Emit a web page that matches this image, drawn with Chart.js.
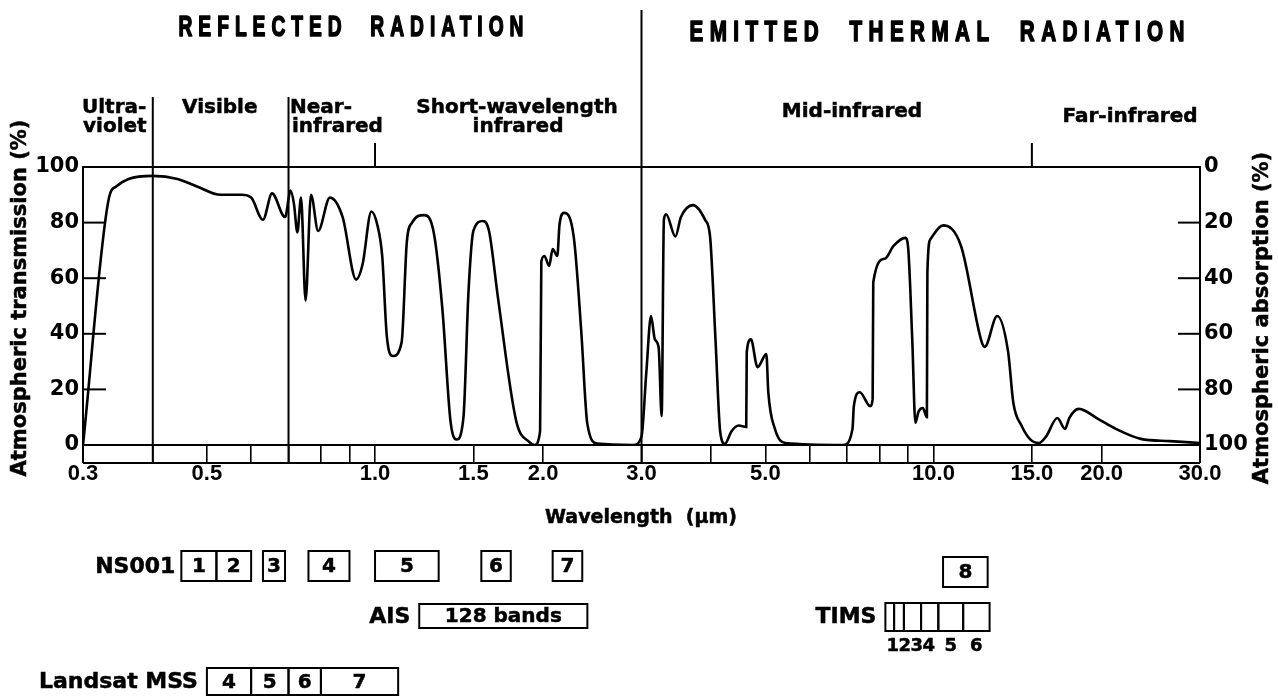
<!DOCTYPE html>
<html>
<head>
<meta charset="utf-8">
<title>Atmospheric transmission</title>
<script src="https://cdn.jsdelivr.net/npm/chart.js@4.4.1/dist/chart.umd.min.js"></script>
<style>
  html, body { margin: 0; padding: 0; background: #fff; }
  #wrap { position: relative; width: 1278px; height: 696px; }
</style>
</head>
<body>
<div id="wrap"><canvas id="chart"></canvas></div>
<script>
// ===================== Data =====================
// wavelength in micrometres, atmospheric transmission in %
const wavelength = [
  0.30, 0.334, 0.344, 0.362, 0.40, 0.443, 0.48, 0.529, 0.577, 0.60,
  0.63, 0.654, 0.69, 0.706, 0.716, 0.726, 0.737, 0.751, 0.768, 0.791,
  0.83, 0.875, 0.925, 0.95, 0.985, 1.01, 1.03, 1.05, 1.076, 1.116,
  1.14, 1.165, 1.225, 1.275, 1.32, 1.365, 1.40, 1.44, 1.47, 1.50,
  1.56, 1.60, 1.66, 1.79, 1.89, 1.93, 1.975, 1.985, 2.01, 2.05,
  2.08, 2.12, 2.14, 2.18, 2.27, 2.34, 2.40, 2.50, 2.90, 3.00,
  3.06, 3.12, 3.17, 3.22, 3.26, 3.29, 3.32, 3.45, 3.53, 3.71,
  3.90, 3.98, 4.07, 4.15, 4.23, 4.35, 4.48, 4.62, 4.63, 4.71,
  4.84, 5.02, 5.06, 5.20, 5.43, 6.90, 7.16, 7.20, 7.38, 7.70,
  7.78, 7.80, 8.18, 8.48, 8.90, 9.00, 9.16, 9.28, 9.40, 9.57,
  9.73, 9.75, 9.87, 10.4, 11.2, 12.2, 12.35, 13.0, 13.6, 13.9,
  14.37, 14.9, 15.44, 15.9, 16.66, 17.2, 17.5, 18.2, 19.7, 21.2,
  23.5, 26.5, 30.0
];
const transmission = [
  0, 89, 93, 95.7, 96.8, 95.7, 93, 90, 90, 89,
  81, 90.5, 82, 91.5, 86.6, 76.5, 89, 52, 90, 77,
  89, 82, 59.5, 65, 84, 79, 68, 39, 32, 37,
  73, 80, 82.7, 76, 49, 8.6, 2, 10, 55, 77,
  80.6, 77, 53, 8.6, 1, 0, 5, 66, 68, 64.4,
  70.5, 68, 79.5, 83.5, 74.5, 41, 7.5, 0.5, 0, 3,
  26, 46.4, 38, 35, 10.4, 81, 83, 75, 82, 86.3,
  81, 75, 38, 4.7, 0.4, 5, 7, 6.5, 33.5, 38,
  28, 32.7, 19, 5.8, 0.7, 0, 5.8, 14, 19, 14,
  16.5, 58.6, 67, 71.6, 74.5, 71.6, 38, 8, 12, 13.3,
  10, 62, 74, 79, 71.6, 37, 35.3, 46.4, 33.5, 15,
  7, 2, 0.7, 3, 9.7, 5.8, 9.7, 13, 9.4, 5.8,
  2.2, 1.4, 0.7
];

const xTicks = [0.3, 0.4, 0.5, 0.6, 0.7, 0.8, 0.9, 1.0, 1.5, 2.0, 3.0, 4, 5, 6, 7, 8, 9, 10, 15, 20, 30];
const xTickLabels = ['0.3', '', '0.5', '', '', '', '', '1.0', '1.5', '2.0', '3.0', '', '5.0', '', '', '', '', '10.0', '15.0', '20.0', '30.0'];
const yTicks = [0, 20, 40, 60, 80, 100];

// region boundaries and the two short marks on the top edge
const regionLines = [0.4, 0.7, 3.0];
const topMarks = [1.0, 15.0];

// sensor bands (micrometres)
const ns001Bands = [[0.45, 0.52], [0.52, 0.60], [0.63, 0.69], [0.76, 0.90], [1.00, 1.30], [1.55, 1.75], [2.08, 2.35]];
const ns001Names = ['1', '2', '3', '4', '5', '6', '7'];
const ns001Thermal = [10.4, 12.5];
const aisBand = [1.2, 2.4];
const timsEdges = [8.2, 8.5, 8.85, 9.5, 10.2, 11.3, 12.6];
const timsNames = ['1', '2', '3', '4', '5', '6'];
const mssBands = [[0.5, 0.6], [0.6, 0.7], [0.7, 0.8], [0.8, 1.1]];
const mssNames = ['4', '5', '6', '7'];

// ===================== Helpers =====================
const SANS = '"DejaVu Sans", sans-serif';

function label(ctx, str, x, y, size, opts) {
  opts = opts || {};
  ctx.save();
  ctx.font = 'bold ' + size + 'px ' + (opts.family || SANS);
  ctx.letterSpacing = (opts.spacing || 0) + 'px';
  ctx.fillStyle = '#000';
  ctx.strokeStyle = '#000';
  ctx.lineWidth = 0.5;
  ctx.textAlign = opts.align || 'center';
  ctx.textBaseline = 'middle';
  ctx.translate(x, y);
  if (opts.rotate) ctx.rotate(opts.rotate);
  ctx.fillText(str, 0, 0);
  ctx.strokeText(str, 0, 0);
  ctx.restore();
}

// condensed, letter-spaced heading squeezed into a given width
function heading(ctx, str, cx, cy, width) {
  ctx.save();
  ctx.font = 'bold 29px "Liberation Sans", sans-serif';
  ctx.letterSpacing = '9px';
  const w = ctx.measureText(str).width - 9;
  ctx.translate(cx - width / 2, cy);
  ctx.scale(width / w, 1);
  ctx.fillStyle = '#000';
  ctx.strokeStyle = '#000';
  ctx.lineWidth = 1.6;
  ctx.lineJoin = 'round';
  ctx.textAlign = 'left';
  ctx.textBaseline = 'middle';
  ctx.fillText(str, 0, 0);
  ctx.strokeText(str, 0, 0);
  ctx.restore();
}

function line(ctx, x1, y1, x2, y2) {
  ctx.beginPath();
  ctx.moveTo(x1, y1);
  ctx.lineTo(x2, y2);
  ctx.stroke();
}

function box(ctx, xs, lo, hi, top, h, text, size) {
  const x1 = xs.getPixelForValue(lo);
  const x2 = xs.getPixelForValue(hi);
  ctx.strokeRect(x1, top, x2 - x1, h);
  if (text) label(ctx, text, (x1 + x2) / 2, top + h / 2 + 1, size || 20);
  return [x1, x2];
}

// ===================== Decorations plugin =====================
const decorations = {
  id: 'decorations',
  afterDraw(chart) {
    const ctx = chart.ctx;
    const a = chart.chartArea;
    const xs = chart.scales.x;
    const ys = chart.scales.y;
    const stripBottom = a.bottom + 18;

    ctx.save();
    ctx.strokeStyle = '#000';
    ctx.lineWidth = 2;

    // frame and the wavelength strip under it
    ctx.strokeRect(a.left, a.top, a.right - a.left, a.bottom - a.top);
    line(ctx, a.left, a.bottom, a.left, stripBottom);
    line(ctx, a.right, a.bottom, a.right, stripBottom);
    line(ctx, a.left, stripBottom, a.right, stripBottom);

    // inward ticks on both vertical axes
    yTicks.forEach(function (v) {
      const y = ys.getPixelForValue(v);
      line(ctx, a.left, y, a.left + 23, y);
      line(ctx, a.right - 22, y, a.right, y);
    });

    // region separators
    regionLines.forEach(function (v) {
      const x = xs.getPixelForValue(v);
      line(ctx, x, v === 3.0 ? 10 : 97, x, stripBottom);
    });
    topMarks.forEach(function (v) {
      const x = xs.getPixelForValue(v);
      line(ctx, x, a.top - 24, x, a.top);
    });

    // headings
    heading(ctx, 'REFLECTED  RADIATION', 351, 28, 345);
    heading(ctx, 'EMITTED  THERMAL  RADIATION', 937, 33, 495);

    // spectral regions
    label(ctx, 'Ultra-', 82, 108, 20, { align: 'left' });
    label(ctx, 'violet', 83, 127, 20, { align: 'left' });
    label(ctx, 'Visible', 182, 108, 20, { align: 'left' });
    label(ctx, 'Near-', 290, 108, 20, { align: 'left' });
    label(ctx, 'infrared', 292, 127, 20, { align: 'left' });
    label(ctx, 'Short-wavelength', 517, 108, 20);
    label(ctx, 'infrared', 518, 127, 20);
    label(ctx, 'Mid-infrared', 852, 112, 20);
    label(ctx, 'Far-infrared', 1130, 117, 20);

    // axis titles
    label(ctx, 'Atmospheric transmission (%)', 21, 298, 21, { rotate: -Math.PI / 2 });
    label(ctx, 'Atmospheric absorption (%)', 1263, 318, 21, { rotate: -Math.PI / 2 });
    label(ctx, 'Wavelength  (\u03bcm)', 641, 518, 19);

    // sensor bands
    let r;
    ns001Bands.forEach(function (b, i) {
      r = box(ctx, xs, b[0], b[1], 551, 30, ns001Names[i]);
      if (i === 0) label(ctx, 'NS001', r[0] - 6, 567, 22, { align: 'right' });
    });
    box(ctx, xs, ns001Thermal[0], ns001Thermal[1], 557, 30, '8');

    r = box(ctx, xs, aisBand[0], aisBand[1], 604, 24, '128 bands');
    label(ctx, 'AIS', r[0] - 9, 617, 22, { align: 'right' });

    // TIMS: six narrow boxes, the first four numbers set tight together
    const timsLeft = xs.getPixelForValue(timsEdges[0]);
    for (let i = 0; i < timsNames.length; i++) {
      r = box(ctx, xs, timsEdges[i], timsEdges[i + 1], 603, 28, '');
      if (i >= 4) label(ctx, timsNames[i], (r[0] + r[1]) / 2, 646, 18);
    }
    label(ctx, timsNames.slice(0, 4).join(''), timsLeft + 1, 646, 18, { align: 'left', spacing: -0.5 });
    label(ctx, 'TIMS', timsLeft - 9, 617, 22, { align: 'right' });

    mssBands.forEach(function (b, i) {
      r = box(ctx, xs, b[0], b[1], 668, 27, mssNames[i]);
      if (i === 0) label(ctx, 'Landsat MSS', r[0] - 9, 682, 22, { align: 'right' });
    });

    ctx.restore();
  }
};

// ===================== Chart =====================
(function () {
  const canvas = document.getElementById('chart');
  const points = wavelength.map(function (w, i) { return { x: w, y: transmission[i] }; });

  new Chart(canvas, {
    type: 'line',
    data: {
      datasets: [{
        data: points,
        borderColor: '#000',
        borderWidth: 2.6,
        pointRadius: 0,
        fill: false,
        cubicInterpolationMode: 'monotone'
      }]
    },
    options: {
      responsive: true,
      maintainAspectRatio: false,
      animation: false,
      events: [],
      layout: { padding: { top: 167, left: 0, right: 0, bottom: 0 } },
      plugins: { legend: { display: false }, tooltip: { enabled: false } },
      scales: {
        x: {
          type: 'logarithmic',
          min: 0.3,
          max: 30,
          afterBuildTicks: function (scale) {
            scale.ticks = xTicks.map(function (v) { return { value: v }; });
          },
          afterFit: function (scale) { scale.height = 251; },
          border: { display: false },
          grid: {
            drawOnChartArea: false,
            drawTicks: true,
            tickLength: 18,
            tickColor: '#000',
            tickWidth: 1.6,
            color: '#000',
            lineWidth: 1.6
          },
          ticks: {
            autoSkip: false,
            maxRotation: 0,
            minRotation: 0,
            padding: 0,
            color: '#000',
            font: { family: 'Liberation Sans', size: 22, weight: 'bold', lineHeight: 1 },
            callback: function (value, index) { return xTickLabels[index]; }
          }
        },
        y: {
          position: 'left',
          min: 0,
          max: 100,
          afterBuildTicks: function (scale) {
            scale.ticks = yTicks.map(function (v) { return { value: v }; });
          },
          afterFit: function (scale) { scale.width = 83; },
          border: { display: false },
          grid: { display: false, drawTicks: false },
          ticks: {
            padding: 4,
            color: '#000',
            font: { family: 'DejaVu Sans', size: 21, weight: 'bold' }
          }
        },
        y2: {
          type: 'linear',
          position: 'right',
          reverse: true,
          min: 0,
          max: 100,
          afterBuildTicks: function (scale) {
            scale.ticks = yTicks.map(function (v) { return { value: v }; });
          },
          afterFit: function (scale) { scale.width = 78; },
          border: { display: false },
          grid: { display: false, drawTicks: false },
          ticks: {
            padding: 4,
            color: '#000',
            font: { family: 'DejaVu Sans', size: 21, weight: 'bold' }
          }
        }
      }
    },
    plugins: [decorations]
  });
})();
</script>
</body>
</html>
